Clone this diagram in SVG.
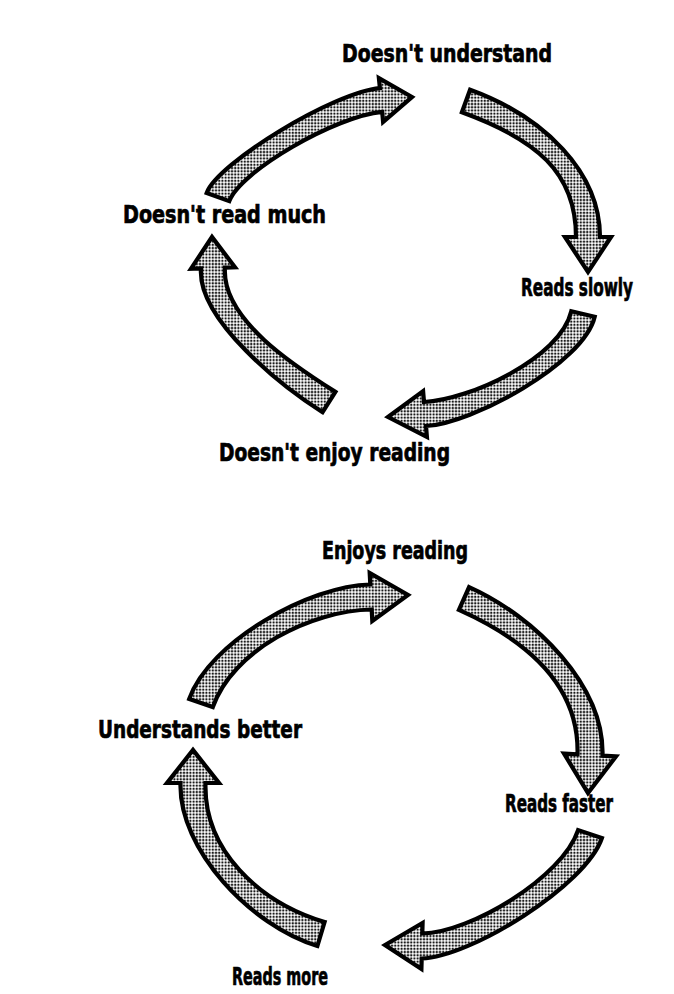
<svg xmlns="http://www.w3.org/2000/svg" width="674" height="994" viewBox="0 0 674 994">
  <defs>
    <pattern id="dots" patternUnits="userSpaceOnUse" width="3.2" height="3.2">
      <rect width="3.2" height="3.2" fill="#ffffff"/>
      <circle cx="1.6" cy="1.6" r="1.2" fill="#1a1a1a"/>
    </pattern>
  </defs>
  <style>
    .arrow { fill: url(#dots); stroke: #000; stroke-width: 4.2; stroke-linejoin: miter; stroke-miterlimit: 6; }
    .label { font-family: "Liberation Sans Narrow", "DejaVu Sans Condensed", "Liberation Sans", sans-serif; font-weight: bold; font-size: 25px; fill: #000; stroke: #000; stroke-width: 0.7; }
  </style>
  <rect width="674" height="994" fill="#ffffff"/>

  <g id="connectors">
    <path id="a1" class="arrow" d="M206.7,192.9 C217.7,162.9 333.9,92.1 379.9,88.1 L378.9,78.1 L412,97 L383.1,121.9 L382.2,111.9 C336.2,115.9 240.3,171.1 229.3,201.1 Z"/>
    <path id="a2" class="arrow" d="M470.1,89.7 C544.1,116.7 600,172 600,237 L611,237 L588,272 L565,237 L576,237 C576,172 535.9,139.3 461.9,112.3 Z"/>
    <path id="a3" class="arrow" d="M594.7,316.7 C583.7,363.7 471,424 426,426 L426.9,436.9 L388,417 L423.1,391.1 L424,402 C469,400 560.3,358.3 571.3,311.3 Z"/>
    <path id="a4" class="arrow" d="M322.6,412.2 C284.6,388.2 197,320.4 201,268.4 L191,268.7 L212,237 L235,267.3 L225,267.6 C221,319.6 297.4,367.9 335.4,391.9 Z"/>
    <path id="a5" class="arrow" d="M189.2,698.9 C209.2,641.9 309.3,585.5 370.3,584.5 L369.7,573 L408,595 L372.3,621 L371.7,609.5 C310.7,610.5 232.8,650.1 212.8,707.1 Z"/>
    <path id="a6" class="arrow" d="M469.1,587.1 C535.1,616.6 604.5,685.7 602.5,755.7 L616,756.4 L588,793 L564,753.6 L577.5,754.3 C579.5,684.3 524.9,639.4 458.9,609.9 Z"/>
    <path id="a7" class="arrow" d="M601.9,838 C586.1,885.5 469.7,957.5 421.7,958.5 L421.4,969 L385,945 L422.6,923 L422.3,933.5 C470.3,932.5 562.3,877.6 578.1,830.1 Z"/>
    <path id="a8" class="arrow" d="M317.4,946 C251.4,926 178.5,850 180.5,783 L167,783 L193,750 L219,783 L205.5,783 C203.5,850 258.6,902 324.6,922 Z"/>
  </g>

  <g id="n-doesnt-understand"><text class="label" x="342" y="62" textLength="210" lengthAdjust="spacingAndGlyphs">Doesn't understand</text></g>
  <g id="n-reads-slowly"><text class="label" transform="translate(521,296) scale(0.68,1)" x="0" y="0">Reads slowly</text></g>
  <g id="n-doesnt-enjoy"><text class="label" x="219" y="461" textLength="231" lengthAdjust="spacingAndGlyphs">Doesn't enjoy reading</text></g>
  <g id="n-doesnt-read-much"><text class="label" x="123" y="223" textLength="203" lengthAdjust="spacingAndGlyphs">Doesn't read much</text></g>

  <g id="n-enjoys-reading"><text class="label" x="322" y="559" textLength="146" lengthAdjust="spacingAndGlyphs">Enjoys reading</text></g>
  <g id="n-reads-faster"><text class="label" x="505" y="812" textLength="108" lengthAdjust="spacingAndGlyphs">Reads faster</text></g>
  <g id="n-reads-more"><text class="label" x="232" y="985" textLength="96" lengthAdjust="spacingAndGlyphs">Reads more</text></g>
  <g id="n-understands-better"><text class="label" x="98" y="738" textLength="204" lengthAdjust="spacingAndGlyphs">Understands better</text></g>
</svg>
